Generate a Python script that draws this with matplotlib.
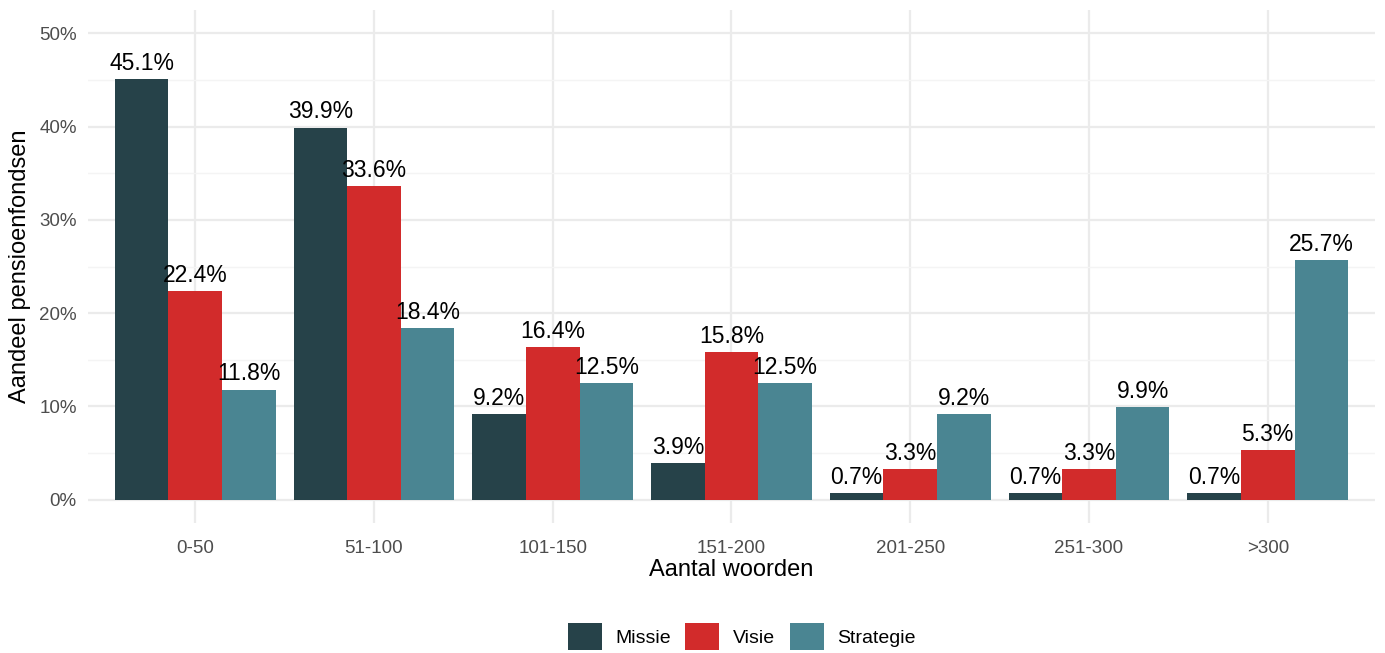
import matplotlib
matplotlib.use("Agg")
import matplotlib.pyplot as plt
from matplotlib.patches import Patch
import numpy as np

plt.rcParams['font.family'] = ['Liberation Sans', 'DejaVu Sans']

categories = ["0-50", "51-100", "101-150", "151-200", "201-250", "251-300", ">300"]
missie = [45.1, 39.9, 9.2, 3.9, 0.7, 0.7, 0.7]
visie = [22.4, 33.6, 16.4, 15.8, 3.3, 3.3, 5.3]
strategie = [11.8, 18.4, 12.5, 12.5, 9.2, 9.9, 25.7]
series_names = ["Missie", "Visie", "Strategie"]
colors = ["#264249", "#d22b2b", "#4a8592"]

fig = plt.figure(figsize=(13.85, 6.53), dpi=100)
ax = fig.add_axes([0.0635, 0.199, 0.9293, 0.7857])

x = np.arange(len(categories))
width = 0.3
for i, (vals, col) in enumerate(zip([missie, visie, strategie], colors)):
    pos = x + (i - 1) * width
    ax.bar(pos, vals, width=width, color=col, zorder=2, linewidth=0)
    for px, v in zip(pos, vals):
        ax.annotate(f"{v:.1f}%", (px, v), xytext=(0, 3), textcoords="offset points",
                    ha="center", va="bottom", fontsize=16.5, color="black", zorder=4)

ax.set_xlim(-0.6, len(categories) - 1 + 0.6)
ax.set_ylim(-2.5, 52.5)
ax.set_yticks(np.arange(0, 51, 10))
ax.set_yticklabels([f"{t}%" for t in range(0, 51, 10)])
ax.set_yticks(np.arange(5, 50, 10), minor=True)
ax.set_xticks(x)
ax.set_xticklabels(categories)

ax.grid(axis="y", which="major", color="#ebebeb", linewidth=1.6, zorder=0)
ax.grid(axis="y", which="minor", color="#f4f4f4", linewidth=1.0, zorder=0)
ax.grid(axis="x", which="major", color="#ebebeb", linewidth=1.6, zorder=0)
for s in ax.spines.values():
    s.set_visible(False)
ax.tick_params(axis="both", which="both", length=0, labelsize=13.5, colors="#4d4d4d")
ax.tick_params(axis="x", pad=12)
ax.tick_params(axis="y", pad=8)

ax.set_xlabel("Aantal woorden", fontsize=17, labelpad=2)
ax.set_ylabel("Aandeel pensioenfondsen", fontsize=17, labelpad=6)

handles = [Patch(facecolor=c, edgecolor="none", label=n) for c, n in zip(colors, series_names)]
fig.legend(handles=handles, loc="center", bbox_to_anchor=(0.5355, 0.025), ncol=3,
           frameon=False, fontsize=14, handlelength=1.75, handleheight=1.75,
           handletextpad=0.7, columnspacing=0.75)

fig.savefig("out.png", dpi=100, facecolor="white")
